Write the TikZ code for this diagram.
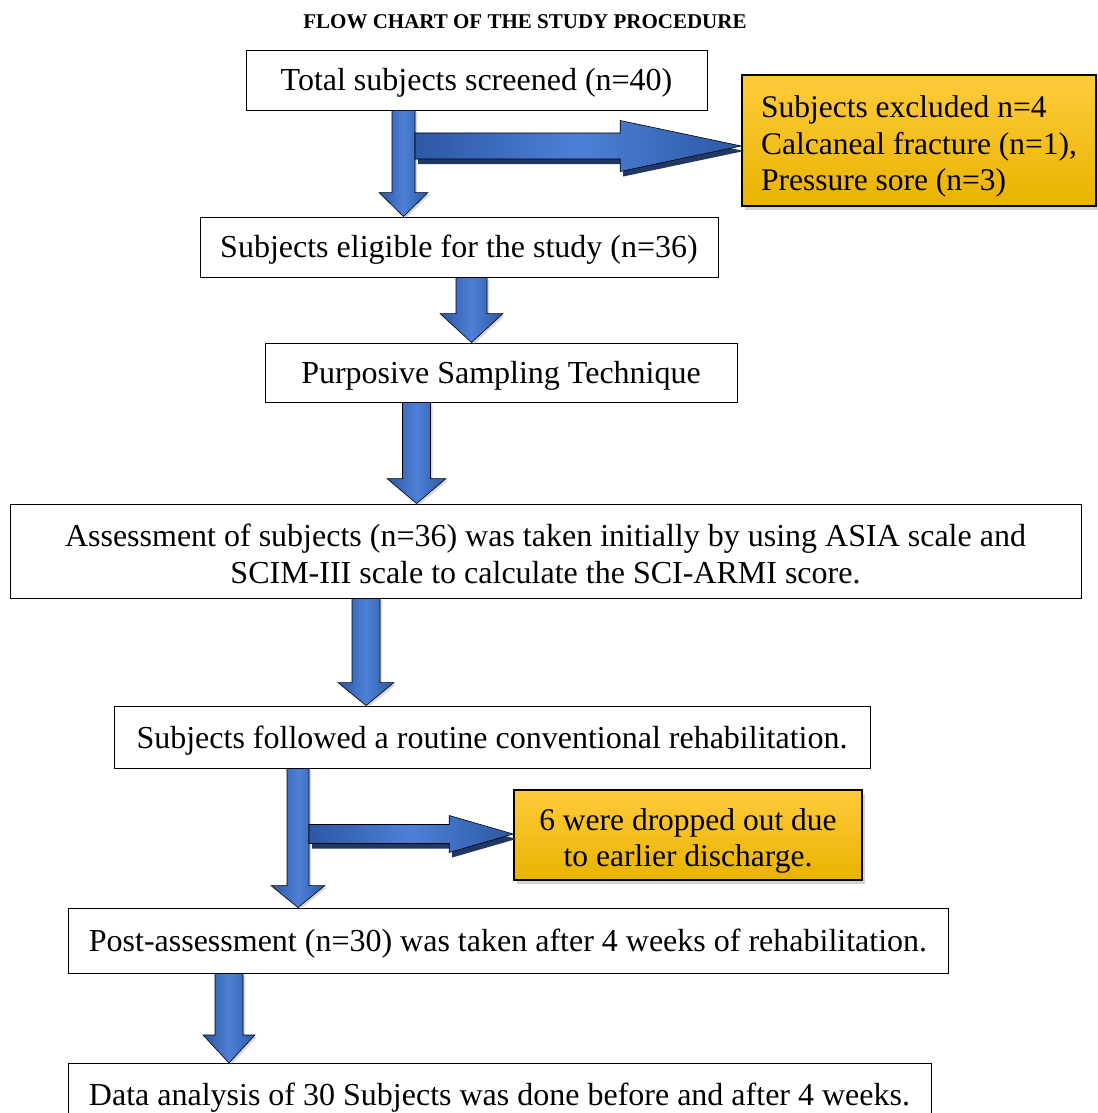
\documentclass[tikz,border=0pt]{standalone}
\usepackage{fontspec}
\setmainfont{Liberation Serif}
\usetikzlibrary{shadows,calc}
\definecolor{arrdark}{HTML}{2C58A4}
\definecolor{arrlight}{HTML}{4D80D6}
\definecolor{arrshadow}{HTML}{1F3866}
\definecolor{orgtop}{HTML}{FFCB3C}
\definecolor{orgbot}{HTML}{E9B300}
\newcommand\upstrut[1]{\rule{0pt}{#1}}
\tikzset{
  txtdown/.style={execute at begin node={\upstrut{#1}}},
  box/.style={draw=black, line width=0.9pt, fill=white, inner sep=0pt, align=center,
    font=\fontsize{32}{37}\selectfont, txtdown=28pt},
  orangebox/.style={draw=black, line width=1.6pt, top color=orgtop, bottom color=orgbot,
    inner sep=0pt, font=\fontsize{31.5}{36.5}\selectfont,
    drop shadow={opacity=0.35, shadow xshift=3pt, shadow yshift=-4pt}},
  arrowbody/.style={draw=black, line width=0.6pt, left color=arrdark, right color=arrdark,
    middle color=arrlight, drop shadow={opacity=0.3, shadow xshift=2pt, shadow yshift=-2pt}},
  rarrowbody/.style={draw=black, line width=0.6pt, left color=arrdark, right color=arrdark,
    middle color=arrlight},
  rarrowshadow/.style={fill=arrshadow},
}
% #1 x centre, #2 from node, #3 to node, #4 shaft half, #5 head half, #6 head length
\newcommand\dnarr[6]{%
  \path let \p1=(#2.south), \p2=(#3.north) in
    [arrowbody] (#1-#4,\y1) -- (#1+#4,\y1) -- (#1+#4,\y2+#6) -- (#1+#5,\y2+#6)
      -- (#1,\y2) -- (#1-#5,\y2+#6) -- (#1-#4,\y2+#6) -- cycle;
}
% #1 y centre, #2 start coordinate, #3 to node, #4 shaft half, #5 head half, #6 head length, #7 style, #8 dx, #9 dy
\newcommand\rtarr[9]{%
  \path let \p1=(#2), \p2=(#3.west) in
    [#7] (\x1+#8,#1+#4+#9) -- (\x2-#6+#8,#1+#4+#9) -- (\x2-#6+#8,#1+#5+#9) -- (\x2+#8,#1+#9)
      -- (\x2-#6+#8,#1-#5+#9) -- (\x2-#6+#8,#1-#4+#9) -- (\x1+#8,#1-#4+#9) -- cycle;
}
\begin{document}
\begin{tikzpicture}[x=1pt,y=1pt]
\useasboundingbox (0,0) rectangle (1097,-1113);

\node[font=\fontsize{21}{24}\bfseries\selectfont] (title) at (525,-22) {FLOW CHART OF THE STUDY PROCEDURE};

\node[box, minimum width=461pt, minimum height=60pt, txtdown=26pt] (n1) at (476.5,-80) {Total subjects screened (n=40)};
\node[box, minimum width=518pt, minimum height=60pt] (n2) at (459,-247) {Subjects eligible for the study (n=36)};
\node[box, minimum width=472pt, minimum height=59pt] (n3) at (501,-372.5) {Purposive Sampling Technique};
\node[box, minimum width=1071pt, minimum height=94pt] (n4) at (545.5,-551) {\upstrut{28pt}Assessment of subjects (n=36) was taken initially by using ASIA scale and\\SCIM-III scale to calculate the SCI-ARMI score.};
\node[box, minimum width=756pt, minimum height=62pt, txtdown=30pt] (n5) at (492,-737) {Subjects followed a routine conventional rehabilitation.};
\node[box, minimum width=880pt, minimum height=65pt] (n6) at (508,-940.5) {Post-assessment (n=30) was taken after 4 weeks of rehabilitation.};
\node[box, minimum width=863pt, minimum height=62pt, anchor=north] (n7) at (499.5,-1063) {Data analysis of 30 Subjects was done before and after 4 weeks.};

\node[orangebox, minimum width=354pt, minimum height=131pt, align=left] (ex1) at (919,-140.5) {\upstrut{34pt}Subjects excluded n=4\\Calcaneal fracture (n=1),\\Pressure sore (n=3)};
\node[orangebox, minimum width=348pt, minimum height=90pt, align=center] (ex2) at (688,-835) {\upstrut{34pt}6 were dropped out due\\to earlier discharge.};

% down arrows
\dnarr{403.5}{n1}{n2}{11.5}{24.5}{24}
\dnarr{471.5}{n2}{n3}{15.5}{31.5}{29}
\dnarr{416.5}{n3}{n4}{14}{29.5}{25}
\dnarr{366}{n4}{n5}{14}{28}{23}
\dnarr{298}{n5}{n6}{11}{27}{22}
\dnarr{229}{n6}{n7}{14}{26}{28}

% side arrows
\coordinate (j1) at (415,-146);
\coordinate (j2) at (309,-835);
\rtarr{-146}{j1}{ex1}{13}{25.5}{121}{rarrowshadow}{3}{-5}
\rtarr{-146}{j1}{ex1}{13}{25.5}{121}{rarrowbody}{0}{0}
\rtarr{-834}{j2}{ex2}{9.5}{18.5}{64}{rarrowshadow}{3}{-5}
\rtarr{-834}{j2}{ex2}{9.5}{18.5}{64}{rarrowbody}{0}{0}
\end{tikzpicture}
\end{document}
